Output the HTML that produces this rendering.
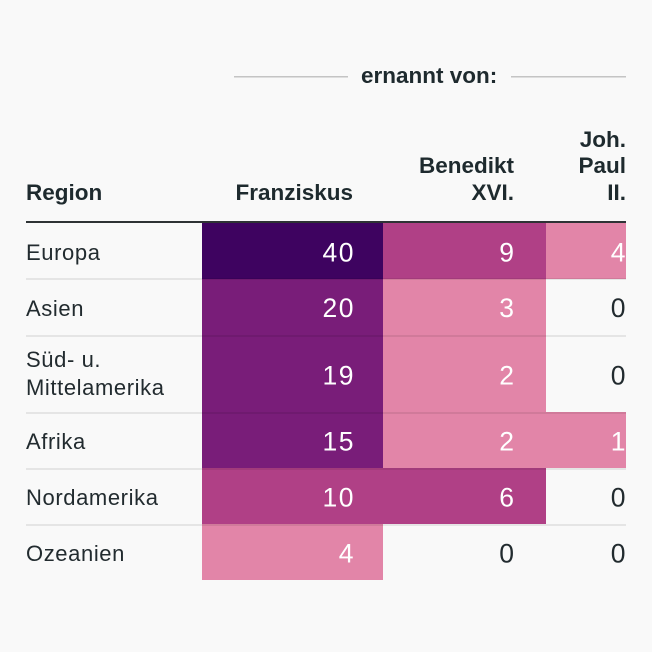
<!DOCTYPE html>
<html>
<head>
<meta charset="utf-8">
<style>
  html, body { margin: 0; padding: 0; background: #f9f9f9; }
  svg { display: block; }
  text { font-family: "Liberation Sans", Arial, sans-serif; }
  .h { font-weight: bold; font-size: 22.5px; fill: #1e2a2e; }
  .r { font-size: 22px; fill: #222b2f; letter-spacing: 0.6px; }
  .n { font-size: 26.5px; fill: #ffffff; text-anchor: end; letter-spacing: 1.5px; }
  .z { font-size: 26.5px; fill: #222b2f; text-anchor: end; letter-spacing: 1.5px; }
</style>
</head>
<body>
<svg width="652" height="652" viewBox="0 0 652 652" xmlns="http://www.w3.org/2000/svg">
  <rect x="0" y="0" width="652" height="652" fill="#f9f9f9"/>

  <!-- spanner header -->
  <rect x="234" y="76" width="114" height="1.5" fill="#c4c4c4"/>
  <rect x="511" y="76" width="115" height="1.5" fill="#c4c4c4"/>
  <text class="h" x="361" y="83">ernannt von:</text>

  <!-- column headers -->
  <text class="h" x="26" y="200">Region</text>
  <text class="h" x="353" y="200" text-anchor="end">Franziskus</text>
  <text class="h" x="514" y="173" text-anchor="end">Benedikt</text>
  <text class="h" x="514" y="200" text-anchor="end">XVI.</text>
  <text class="h" x="626" y="147" text-anchor="end">Joh.</text>
  <text class="h" x="626" y="173" text-anchor="end">Paul</text>
  <text class="h" x="626" y="200" text-anchor="end">II.</text>

  <!-- cell backgrounds -->
  <rect x="202" y="223" width="181" height="56" fill="#3e0360"/>
  <rect x="383" y="223" width="163" height="56" fill="#b04086"/>
  <rect x="546" y="223" width="80" height="56" fill="#e285a8"/>

  <rect x="202" y="279" width="181" height="56" fill="#791d79"/>
  <rect x="383" y="279" width="163" height="56" fill="#e285a8"/>

  <rect x="202" y="335" width="181" height="77" fill="#791d79"/>
  <rect x="383" y="335" width="163" height="77" fill="#e285a8"/>

  <rect x="202" y="412" width="181" height="56" fill="#791d79"/>
  <rect x="383" y="412" width="163" height="56" fill="#e285a8"/>
  <rect x="546" y="412" width="80" height="56" fill="#e285a8"/>

  <rect x="202" y="468" width="181" height="56" fill="#b04086"/>
  <rect x="383" y="468" width="163" height="56" fill="#b04086"/>

  <rect x="202" y="524" width="181" height="56" fill="#e285a8"/>

  <!-- separators -->
  <rect x="26" y="221" width="600" height="2" fill="#2e3335"/>
  <rect x="26" y="278" width="600" height="2" fill="rgba(0,0,0,0.08)"/>
  <rect x="26" y="335" width="600" height="2" fill="rgba(0,0,0,0.08)"/>
  <rect x="26" y="412" width="600" height="2" fill="rgba(0,0,0,0.08)"/>
  <rect x="26" y="468" width="600" height="2" fill="rgba(0,0,0,0.08)"/>
  <rect x="26" y="524" width="600" height="2" fill="rgba(0,0,0,0.08)"/>

  <!-- row labels -->
  <text class="r" x="26" y="260">Europa</text>
  <text class="r" x="26" y="316">Asien</text>
  <text class="r" x="26" y="367">Süd- u.</text>
  <text class="r" x="26" y="395">Mittelamerika</text>
  <text class="r" x="26" y="449">Afrika</text>
  <text class="r" x="26" y="505">Nordamerika</text>
  <text class="r" x="26" y="561">Ozeanien</text>

  <!-- numbers -->
  <text class="n" x="355" y="261.5">40</text>
  <text class="n" x="515.5" y="261.5">9</text>
  <text class="n" x="627" y="261.5">4</text>

  <text class="n" x="355" y="317">20</text>
  <text class="n" x="515.5" y="317">3</text>
  <text class="z" x="627" y="317">0</text>

  <text class="n" x="355" y="384.5">19</text>
  <text class="n" x="515.5" y="384.5">2</text>
  <text class="z" x="627" y="384.5">0</text>

  <text class="n" x="355" y="450.5">15</text>
  <text class="n" x="515.5" y="450.5">2</text>
  <text class="n" x="627" y="450.5">1</text>

  <text class="n" x="355" y="506.5">10</text>
  <text class="n" x="515.5" y="506.5">6</text>
  <text class="z" x="627" y="506.5">0</text>

  <text class="n" x="355" y="562.5">4</text>
  <text class="z" x="515.5" y="562.5">0</text>
  <text class="z" x="627" y="562.5">0</text>
</svg>
</body>
</html>
